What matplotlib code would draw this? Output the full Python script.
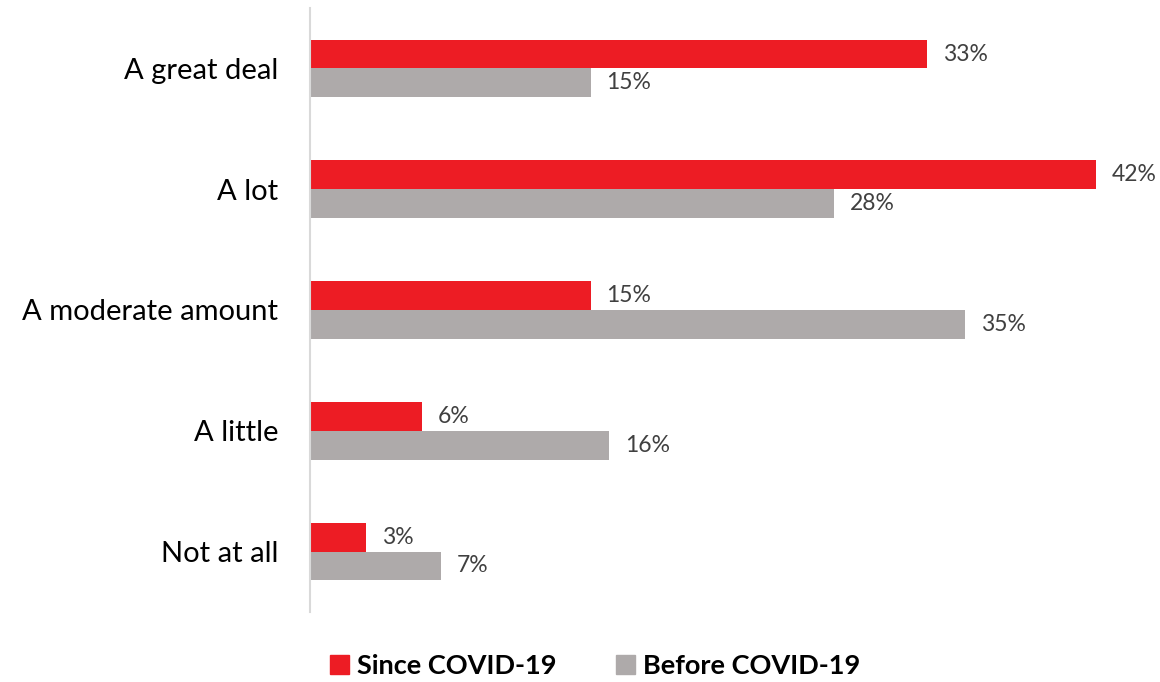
import matplotlib.pyplot as plt
from matplotlib.patches import Patch
import numpy as np

plt.rcParams['font.family'] = ['Lato', 'DejaVu Sans']

categories = ['A great deal', 'A lot', 'A moderate amount', 'A little', 'Not at all']
since_covid = [33, 42, 15, 6, 3]
before_covid = [15, 28, 35, 16, 7]
series_names = ['Since COVID-19', 'Before COVID-19']

red = '#ED1C24'
grey = '#AEAAAA'
label_color = '#404040'

fig = plt.figure(figsize=(11.6, 6.82), dpi=100)
ax = fig.add_axes([310 / 1160, 70 / 682, 823 / 1160, 604 / 682])

y = np.arange(len(categories))
h = 0.238
ax.barh(y - h / 2, since_covid, height=h, color=red)
ax.barh(y + h / 2, before_covid, height=h, color=grey)

for yy, v in zip(y - h / 2, since_covid):
    ax.text(v + 0.85, yy, f'{v}%', va='center', ha='left', fontsize=16.5, color=label_color)
for yy, v in zip(y + h / 2, before_covid):
    ax.text(v + 0.85, yy, f'{v}%', va='center', ha='left', fontsize=16.5, color=label_color)

ax.set_xlim(0, 44)
ax.set_ylim(len(categories) - 0.5, -0.5)
ax.set_yticks(y, labels=categories, fontsize=21)
ax.set_xticks([])
ax.tick_params(axis='y', length=0, pad=23)
for side in ['top', 'right', 'bottom']:
    ax.spines[side].set_visible(False)
ax.spines['left'].set_color('#D9D9D9')
ax.spines['left'].set_linewidth(1.5)

handles = [Patch(color=red), Patch(color=grey)]
fig.legend(handles, series_names, loc='center', bbox_to_anchor=(0.513, 0.024),
           ncol=2, frameon=False, prop={'weight': 'bold', 'size': 19.5},
           handlelength=0.7, handleheight=0.7, handletextpad=0.3,
           columnspacing=2.2)

fig.savefig('out.png', dpi=100)
